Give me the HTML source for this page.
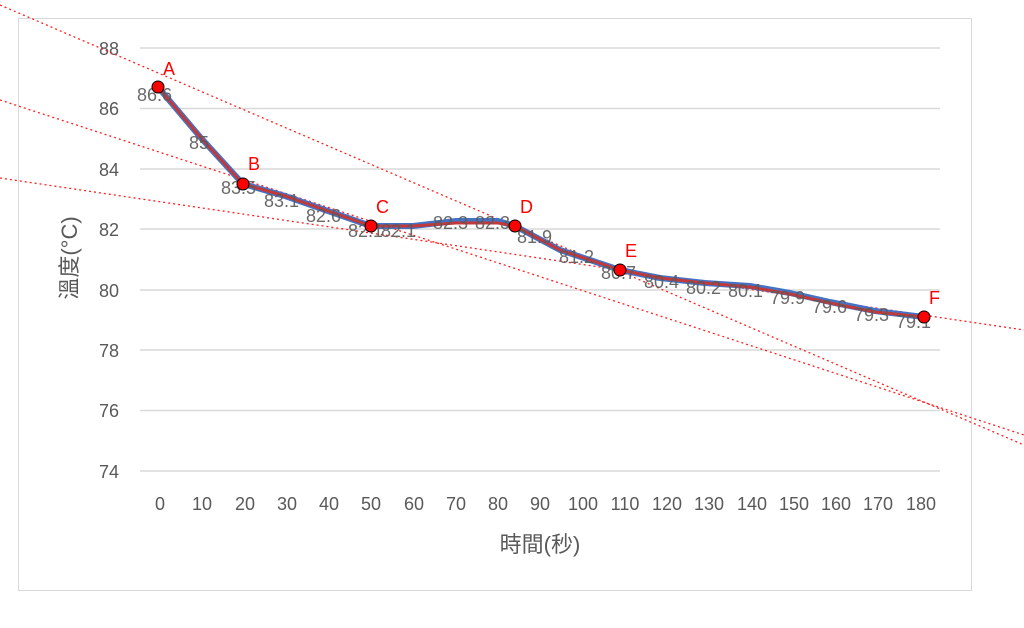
<!DOCTYPE html>
<html><head><meta charset="utf-8"><style>
html,body{margin:0;padding:0;background:#fff;}
svg{display:block;font-family:"Liberation Sans","Noto Sans CJK TC",sans-serif;}
</style></head><body>
<svg width="1024" height="628" viewBox="0 0 1024 628" xmlns="http://www.w3.org/2000/svg">
<rect x="18.5" y="18.5" width="953" height="572" fill="#fff" stroke="#d9d9d9"/>
<g stroke="#d9d9d9" stroke-width="1.5">
<line x1="140" y1="48" x2="940" y2="48"/>
<line x1="140" y1="108.5" x2="940" y2="108.5"/>
<line x1="140" y1="169" x2="940" y2="169"/>
<line x1="140" y1="229" x2="940" y2="229"/>
<line x1="140" y1="290" x2="940" y2="290"/>
<line x1="140" y1="350" x2="940" y2="350"/>
<line x1="140" y1="410.5" x2="940" y2="410.5"/>
<line x1="140" y1="471" x2="940" y2="471"/>
</g>
<g fill="#595959" font-size="18" text-anchor="end">
<text x="119" y="55">88</text><text x="119" y="115">86</text><text x="119" y="176">84</text>
<text x="119" y="236">82</text><text x="119" y="297">80</text><text x="119" y="357">78</text>
<text x="119" y="417">76</text><text x="119" y="478">74</text>
</g>
<g fill="#595959" font-size="18" text-anchor="middle">
<text x="160" y="510">0</text><text x="202" y="510">10</text><text x="245" y="510">20</text>
<text x="287" y="510">30</text><text x="329" y="510">40</text><text x="371" y="510">50</text>
<text x="414" y="510">60</text><text x="456" y="510">70</text><text x="498" y="510">80</text>
<text x="540" y="510">90</text><text x="583" y="510">100</text><text x="625" y="510">110</text>
<text x="667" y="510">120</text><text x="709" y="510">130</text><text x="752" y="510">140</text>
<text x="794" y="510">150</text><text x="836" y="510">160</text><text x="878" y="510">170</text>
<text x="921" y="510">180</text>
<text x="540" y="552" font-size="22">時間(秒)</text>
<text transform="translate(77,258) rotate(-90)" font-size="22">溫度(°C)</text>
</g>
<g stroke="#ff2020" stroke-width="1.3" stroke-dasharray="2,3" fill="none">
<line x1="0" y1="5" x2="1024" y2="445"/>
<line x1="0" y1="100" x2="1024" y2="435"/>
<line x1="0" y1="178" x2="1024" y2="330"/>
</g>
<polyline fill="none" stroke="#4472c4" stroke-width="6" stroke-linejoin="round" points="158,87 201,138 243,184 285,196 328,211 371,226 413,226 456,221 498,221 515,226 560,250 620,270 660,278 705,283 750,286 790,293 830,302 875,311 924,317"/>
<polyline fill="none" stroke="#c0393b" stroke-width="3" stroke-linejoin="round" points="158,87 201,138 243,184 285,196 328,211 371,226 413,226 456,223 498,223 515,226 560,250 620,270 660,278 705,283 750,287 790,294 830,303 875,312 924,317"/>
<g fill="#595959" font-size="18" opacity="0.9">
<text x="137" y="101">86.6</text><text x="189" y="149">85</text><text x="221" y="194">83.5</text>
<text x="264" y="207">83.1</text><text x="306" y="222">82.6</text><text x="348" y="237">82.1</text>
<text x="381" y="237">82.1</text><text x="433" y="229">82.3</text><text x="475" y="229">82.3</text>
<text x="517" y="243">81.9</text><text x="559" y="263">81.2</text><text x="601" y="279">80.7</text>
<text x="644" y="288">80.4</text><text x="686" y="294">80.2</text><text x="728" y="297">80.1</text>
<text x="770" y="304">79.9</text><text x="812" y="313">79.6</text><text x="854" y="321">79.3</text>
<text x="896" y="328">79.1</text>
</g>
<g fill="#ff0000" stroke="#000" stroke-width="1">
<circle cx="158" cy="87" r="6"/><circle cx="243" cy="184" r="6"/><circle cx="371" cy="226" r="6"/>
<circle cx="515" cy="226" r="6"/><circle cx="620" cy="270" r="6"/><circle cx="924" cy="317" r="6"/>
</g>
<g fill="#ff0000" font-size="18">
<text x="163" y="75">A</text><text x="248" y="170">B</text><text x="376" y="213">C</text>
<text x="520" y="213">D</text><text x="625" y="257">E</text><text x="929" y="304">F</text>
</g>
</svg>
</body></html>
